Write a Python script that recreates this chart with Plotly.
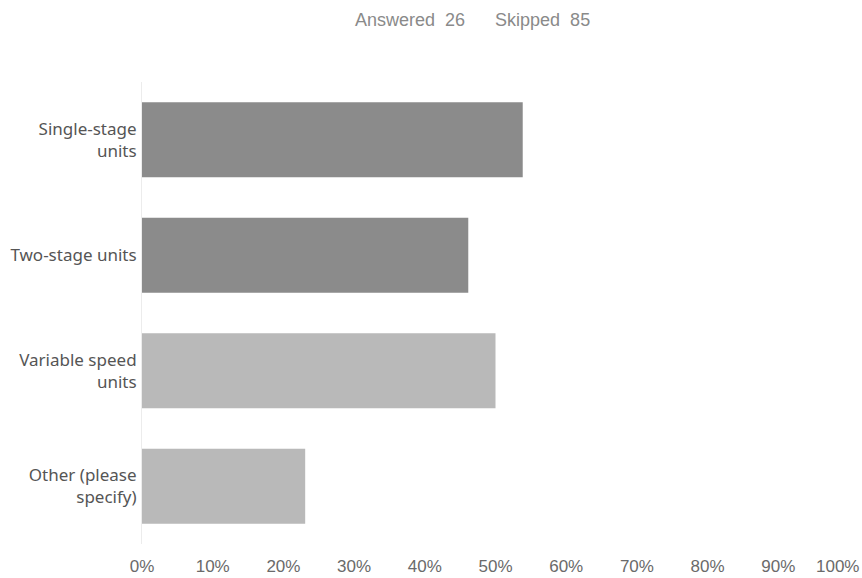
import plotly.graph_objects as go

categories = ["Single-stage<br>units", "Two-stage units", "Variable speed<br>units", "Other (please<br>specify)"]
values = [53.85, 46.15, 50.0, 23.08]
bar_colors = ["#8b8b8b", "#8b8b8b", "#b9b9b9", "#b9b9b9"]
tick_vals = [0, 10, 20, 30, 40, 50, 60, 70, 80, 90]
tick_text = ["0%", "10%", "20%", "30%", "40%", "50%", "60%", "70%", "80%", "90%"]
last_tick_val = 100
last_tick_text = "100%"
title_text = "Answered&nbsp;&nbsp;26" + "&nbsp;" * 6 + "Skipped&nbsp;&nbsp;85"

L, R, T, B = 142, 13, 82, 34
W, H = 862, 578
plot_h = H - T - B
plot_w = W - L - R

fig = go.Figure(go.Bar(
    x=values, y=categories, orientation="h",
    marker=dict(color=bar_colors, line=dict(width=0)),
    width=0.65, hoverinfo="skip",
))

tick_font = dict(family="Liberation Sans, Arial, sans-serif", size=17, color="#6a6a6a")

fig.update_layout(
    width=W, height=H,
    margin=dict(l=L, r=R, t=T, b=B, autoexpand=False),
    paper_bgcolor="white", plot_bgcolor="white",
    showlegend=False,
    font=dict(family="Noto Sans, Lato, sans-serif", color="#555555"),
    xaxis=dict(range=[0, 100], tickvals=tick_vals, ticktext=tick_text,
               showgrid=False, zeroline=False, showline=False, automargin=False,
               ticks="", ticklabelstandoff=10, tickfont=tick_font, fixedrange=True),
    yaxis=dict(autorange="reversed", showgrid=False, zeroline=False, automargin=False,
               showline=True, linecolor="#ececec", linewidth=1,
               ticks="", ticklabelstandoff=1,
               tickfont=dict(family="Noto Sans, sans-serif", size=17, color="#555555")),
    annotations=[
        dict(text=title_text, x=(472 - L) / plot_w, xref="paper",
             y=1 + (T - 20) / plot_h, yref="paper",
             showarrow=False, font=dict(family="Liberation Sans, Arial, sans-serif", size=18, color="#8a8a8a"),
             xanchor="center", yanchor="middle"),
        dict(text=last_tick_text, x=last_tick_val, xref="x", y=0, yref="paper",
             xanchor="center", xshift=-12, yshift=-22, yanchor="middle", showarrow=False,
             font=tick_font),
    ],
)

fig.write_html("out.html")
